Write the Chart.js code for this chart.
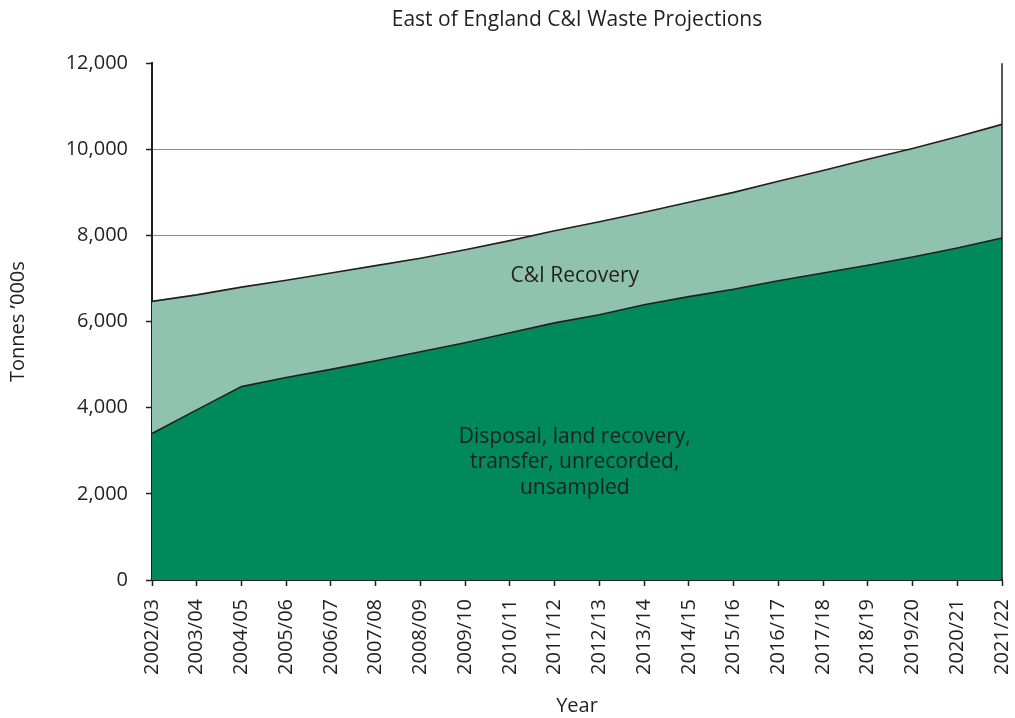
<!DOCTYPE html>
<html>
<head>
<meta charset="utf-8">
<script src="https://cdn.jsdelivr.net/npm/chart.js@4.4.0/dist/chart.umd.min.js"></script>
<style>
  html, body { margin: 0; padding: 0; background: #fff; }
  #wrap { width: 1015px; height: 718px; }
</style>
</head>
<body>
<div id="wrap"><canvas id="myChart" width="1015" height="718"></canvas></div>
<script>
// categories and values (thousand tonnes)
var years = ["2002/03","2003/04","2004/05","2005/06","2006/07","2007/08","2008/09","2009/10","2010/11","2011/12",
             "2012/13","2013/14","2014/15","2015/16","2016/17","2017/18","2018/19","2019/20","2020/21","2021/22"];
var disposal = [3400,3950,4490,4700,4890,5090,5300,5510,5740,5970,6160,6390,6580,6750,6950,7130,7310,7500,7710,7940];
var recovery = [3070,2670,2310,2260,2240,2210,2170,2160,2140,2140,2160,2150,2190,2250,2310,2380,2460,2520,2580,2640];
var yTicks = [0,2000,4000,6000,8000,10000,12000];

var textColor = "#231f20";
var fontFamily = "'Open Sans', 'Noto Sans', sans-serif";

// labels written inside the areas, placed with the chart scales
var areaLabels = [
  { text: ["C&I Recovery"], x: 9.45, y: 7050 },
  { text: ["Disposal, land recovery,", "transfer, unrecorded,", "unsampled"], x: 9.45, y: 3330 }
];

var extras = {
  id: "extras",
  afterDatasetsDraw: function(chart) {
    var ctx = chart.ctx;
    var area = chart.chartArea;
    var xs = chart.scales.x, ys = chart.scales.y;
    ctx.save();
    // right border of the plot
    ctx.strokeStyle = textColor;
    ctx.lineWidth = 1.5;
    ctx.beginPath();
    ctx.moveTo(area.right, area.top);
    ctx.lineTo(area.right, area.bottom);
    ctx.stroke();
    // text inside the areas
    ctx.fillStyle = textColor;
    ctx.font = "21px " + fontFamily;
    ctx.textAlign = "center";
    ctx.textBaseline = "middle";
    for (var i = 0; i < areaLabels.length; i++) {
      var lab = areaLabels[i];
      var px = xs.getPixelForValue(lab.x);
      var py = ys.getPixelForValue(lab.y);
      for (var j = 0; j < lab.text.length; j++) {
        ctx.fillText(lab.text[j], px, py + j * 25.5);
      }
    }
    ctx.restore();
  }
};

new Chart("myChart", {
  type: "line",
  data: {
    labels: years,
    datasets: [{
      label: "Disposal, land recovery, transfer, unrecorded, unsampled",
      data: disposal,
      backgroundColor: "#00895a",
      borderColor: textColor,
      borderWidth: 1.6,
      pointRadius: 0,
      tension: 0,
      fill: "origin"
    }, {
      label: "C&I Recovery",
      data: recovery,
      backgroundColor: "#8fc3b0",
      borderColor: textColor,
      borderWidth: 1.6,
      pointRadius: 0,
      tension: 0,
      fill: "-1"
    }]
  },
  options: {
    responsive: false,
    animation: false,
    layout: { padding: { left: 0, right: 13, top: 0, bottom: 0 } },
    plugins: {
      legend: { display: false },
      tooltip: { enabled: false },
      title: {
        display: true,
        fullSize: false,
        text: "East of England C&I Waste Projections",
        color: textColor,
        font: { family: fontFamily, size: 21, weight: "normal" },
        padding: { top: 7, bottom: 31 }
      }
    },
    scales: {
      x: {
        offset: false,
        afterFit: function(scale) {
          scale.height = 138;
          scale.paddingRight = 0;
          scale.paddingLeft = 0;
        },
        grid: {
          drawOnChartArea: false,
          tickLength: 6,
          tickColor: textColor,
          tickWidth: 1.5
        },
        border: { color: textColor, width: 2 },
        ticks: {
          color: textColor,
          font: { family: fontFamily, size: 20 },
          minRotation: 90,
          maxRotation: 90,
          padding: 13,
          autoSkip: false
        },
        title: {
          display: true,
          text: "Year",
          color: textColor,
          font: { family: fontFamily, size: 20 },
          padding: { top: 0, bottom: 0 }
        }
      },
      y: {
        stacked: true,
        min: 0,
        max: 12000,
        afterFit: function(scale) { scale.width = 152; },
        afterBuildTicks: function(scale) {
          scale.ticks = yTicks.map(function(v) { return { value: v }; });
        },
        grid: {
          color: function(c) {
            var v = c.tick && c.tick.value;
            return (v === 0 || v === 12000) ? "rgba(0,0,0,0)" : "#8a8a8a";
          },
          lineWidth: 1,
          tickLength: 6,
          tickColor: textColor,
          tickWidth: 1.5
        },
        border: { color: textColor, width: 2 },
        ticks: {
          color: textColor,
          font: { family: fontFamily, size: 20 },
          padding: 18,
          callback: function(v) { return v.toLocaleString("en-GB"); }
        },
        title: {
          display: true,
          text: "Tonnes \u2019000s",
          color: textColor,
          font: { family: fontFamily, size: 20 },
          padding: { top: 6, bottom: 0 }
        }
      }
    }
  },
  plugins: [extras]
});
</script>
</body>
</html>
